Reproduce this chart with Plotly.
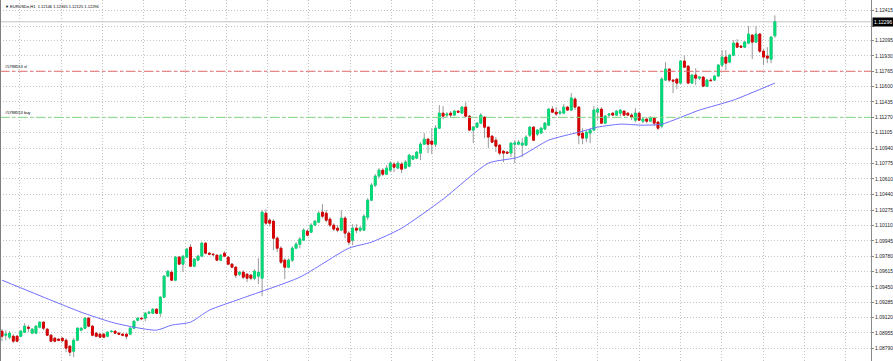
import plotly.graph_objects as go

symbol_title = "EURUSDe,H1  1.12146 1.12365 1.12125 1.12296"

opens = [
1.08974,1.08931,1.08910,1.08920,1.08920,1.08920,1.08963,1.09017,1.08953,1.08953,
1.09017,1.09071,1.08996,1.08931,1.08899,1.08888,1.08899,1.08877,1.08813,1.08759,
1.08877,1.08985,1.09006,1.09114,1.09028,1.08953,1.08942,1.08942,1.08920,1.08969,
1.08974,1.08953,1.08942,1.08942,1.08942,1.09006,1.09092,1.09114,1.09114,1.09167,
1.09167,1.09210,1.09167,1.09339,1.09565,1.09608,1.09522,1.09769,1.09694,1.09769,
1.09876,1.09672,1.09737,1.09780,1.09919,1.09812,1.09801,1.09790,1.09737,1.09812,
1.09769,1.09694,1.09661,1.09586,1.09608,1.09586,1.09576,1.09543,1.09565,1.09543,
1.10241,1.10166,1.10155,1.09973,1.09865,1.09737,1.09661,1.09737,1.09865,1.09908,
1.09951,1.10048,1.10037,1.10113,1.10145,1.10252,1.10241,1.10177,1.10113,1.10080,
1.10059,1.10188,1.10027,1.09951,1.10080,1.10059,1.10059,1.10198,1.10381,1.10542,
1.10639,1.10703,1.10660,1.10703,1.10768,1.10725,1.10768,1.10725,1.10746,1.10821,
1.10832,1.10886,1.10982,1.11036,1.11015,1.10982,1.11154,1.11315,1.11294,1.11315,
1.11294,1.11337,1.11315,1.11380,1.11283,1.11133,1.11165,1.11208,1.11272,1.11165,
1.11068,1.11025,1.10972,1.10907,1.10897,1.10886,1.10982,1.10982,1.10972,1.10972,
1.11079,1.11165,1.11090,1.11101,1.11144,1.11186,1.11358,1.11326,1.11315,1.11315,
1.11380,1.11348,1.11466,1.11380,1.11101,1.11047,1.11101,1.11133,1.11326,1.11358,
1.11208,1.11294,1.11315,1.11294,1.11315,1.11337,1.11315,1.11294,1.11240,1.11315,
1.11229,1.11251,1.11229,1.11262,1.11219,1.11176,1.11670,1.11788,1.11670,1.11681,
1.11638,1.11874,1.11820,1.11638,1.11724,1.11691,1.11702,1.11605,1.11670,1.11670,
1.11713,1.11831,1.11917,1.11863,1.11938,1.12067,1.12035,1.12024,1.12067,1.12153,
1.12078,1.12164,1.11981,1.11928,1.11895,1.12146]

highs = [
1.08996,1.08985,1.08974,1.08942,1.08931,1.08985,1.09060,1.09039,1.09006,1.09039,
1.09081,1.09081,1.09006,1.08942,1.08910,1.08899,1.08910,1.08899,1.08824,1.08899,
1.09017,1.09017,1.09124,1.09124,1.09039,1.08963,1.08953,1.08953,1.08974,1.08979,
1.08979,1.08963,1.08953,1.08953,1.09017,1.09092,1.09124,1.09124,1.09178,1.09189,
1.09221,1.09221,1.09350,1.09576,1.09629,1.09629,1.09780,1.09780,1.09790,1.09865,
1.09908,1.09758,1.09790,1.09930,1.09930,1.09823,1.09812,1.09801,1.09801,1.09833,
1.09780,1.09704,1.09672,1.09618,1.09629,1.09597,1.09586,1.09640,1.09758,1.10274,
1.10284,1.10188,1.10177,1.09994,1.09887,1.09758,1.09758,1.09887,1.09930,1.09984,
1.10080,1.10070,1.10134,1.10166,1.10263,1.10338,1.10274,1.10198,1.10134,1.10113,
1.10274,1.10209,1.10048,1.10123,1.10123,1.10102,1.10231,1.10403,1.10564,1.10660,
1.10725,1.10725,1.10757,1.10800,1.10789,1.10800,1.10789,1.10811,1.10875,1.10864,
1.10907,1.11004,1.11101,1.11047,1.11154,1.11186,1.11401,1.11391,1.11326,1.11337,
1.11348,1.11348,1.11391,1.11434,1.11294,1.11176,1.11219,1.11315,1.11283,1.11176,
1.11079,1.11058,1.10982,1.10918,1.10907,1.11004,1.11025,1.11025,1.11047,1.11079,
1.11176,1.11176,1.11144,1.11165,1.11219,1.11369,1.11391,1.11380,1.11348,1.11412,
1.11391,1.11530,1.11487,1.11391,1.11154,1.11133,1.11154,1.11391,1.11380,1.11380,
1.11294,1.11315,1.11326,1.11348,1.11358,1.11348,1.11326,1.11315,1.11369,1.11326,
1.11262,1.11272,1.11283,1.11272,1.11229,1.11702,1.11863,1.11799,1.11681,1.11691,
1.11885,1.11938,1.11831,1.11734,1.11799,1.11713,1.11713,1.11681,1.11691,1.11724,
1.11842,1.11992,1.11992,1.11949,1.12099,1.12110,1.12046,1.12089,1.12250,1.12164,
1.12250,1.12175,1.12003,1.12024,1.12142,1.12365]

lows = [
1.08867,1.08877,1.08888,1.08845,1.08856,1.08910,1.08953,1.08963,1.08942,1.08942,
1.09006,1.08985,1.08920,1.08856,1.08856,1.08867,1.08856,1.08749,1.08706,1.08695,
1.08867,1.08974,1.08996,1.09017,1.08920,1.08910,1.08899,1.08899,1.08910,1.08963,
1.08942,1.08931,1.08920,1.08888,1.08931,1.08996,1.09081,1.09092,1.09081,1.09157,
1.09157,1.09157,1.09124,1.09329,1.09554,1.09511,1.09511,1.09683,1.09608,1.09758,
1.09661,1.09661,1.09726,1.09769,1.09801,1.09790,1.09780,1.09726,1.09726,1.09769,
1.09683,1.09651,1.09543,1.09565,1.09533,1.09500,1.09522,1.09522,1.09479,1.09350,
1.10113,1.10102,1.09844,1.09823,1.09694,1.09533,1.09651,1.09715,1.09855,1.09865,
1.09941,1.09994,1.10027,1.10102,1.10134,1.10188,1.10145,1.10091,1.10048,1.10037,
1.10048,1.09973,1.09898,1.09898,1.10027,1.10037,1.10048,1.10166,1.10370,1.10521,
1.10617,1.10639,1.10650,1.10682,1.10682,1.10714,1.10671,1.10714,1.10735,1.10811,
1.10821,1.10811,1.10972,1.10886,1.10875,1.10950,1.11144,1.11251,1.11272,1.11272,
1.11283,1.11315,1.11305,1.11272,1.11122,1.10993,1.11154,1.11197,1.11047,1.10940,
1.10993,1.10897,1.10864,1.10789,1.10875,1.10843,1.10778,1.10972,1.10843,1.10961,
1.11058,1.11015,1.11068,1.11090,1.11133,1.11176,1.11315,1.11283,1.11294,1.11305,
1.11337,1.11337,1.11348,1.10982,1.10982,1.11004,1.10993,1.11122,1.11240,1.11197,
1.11197,1.11272,1.11283,1.11283,1.11283,1.11283,1.11283,1.11240,1.11219,1.11230,
1.11208,1.11208,1.11219,1.11176,1.11133,1.11154,1.11659,1.11648,1.11530,1.11573,
1.11627,1.11799,1.11627,1.11627,1.11616,1.11670,1.11595,1.11595,1.11659,1.11659,
1.11702,1.11809,1.11777,1.11852,1.11928,1.12014,1.12014,1.12014,1.12056,1.11895,
1.12067,1.11960,1.11831,1.11852,1.11852,1.12125]

closes = [
1.08920,1.08942,1.08953,1.08867,1.08867,1.08974,1.09028,1.09006,1.08996,1.09028,
1.09071,1.09006,1.08931,1.08867,1.08867,1.08877,1.08872,1.08792,1.08749,1.08877,
1.09006,1.09006,1.09114,1.09028,1.08931,1.08920,1.08910,1.08910,1.08963,1.08974,
1.08953,1.08942,1.08931,1.08920,1.09006,1.09081,1.09114,1.09108,1.09167,1.09178,
1.09210,1.09167,1.09339,1.09565,1.09618,1.09522,1.09769,1.09694,1.09780,1.09855,
1.09672,1.09747,1.09780,1.09919,1.09812,1.09801,1.09796,1.09737,1.09790,1.09780,
1.09694,1.09661,1.09576,1.09608,1.09554,1.09543,1.09543,1.09618,1.09608,1.10252,
1.10134,1.10134,1.09973,1.09865,1.09715,1.09661,1.09737,1.09865,1.09908,1.09962,
1.10059,1.10005,1.10113,1.10155,1.10241,1.10209,1.10166,1.10113,1.10070,1.10059,
1.10188,1.10027,1.09930,1.10080,1.10059,1.10080,1.10209,1.10381,1.10542,1.10639,
1.10703,1.10660,1.10725,1.10778,1.10735,1.10778,1.10714,1.10789,1.10864,1.10854,
1.10897,1.10982,1.11036,1.10982,1.10982,1.11154,1.11315,1.11283,1.11305,1.11294,
1.11337,1.11326,1.11380,1.11283,1.11133,1.11165,1.11208,1.11294,1.11165,1.11058,
1.11004,1.10961,1.10886,1.10886,1.10886,1.10993,1.10993,1.11004,1.10993,1.11058,
1.11165,1.11025,1.11133,1.11154,1.11208,1.11358,1.11326,1.11305,1.11326,1.11380,
1.11348,1.11477,1.11380,1.11079,1.11047,1.11111,1.11133,1.11348,1.11358,1.11208,
1.11283,1.11305,1.11294,1.11337,1.11348,1.11294,1.11294,1.11272,1.11315,1.11240,
1.11251,1.11229,1.11262,1.11208,1.11154,1.11681,1.11788,1.11670,1.11659,1.11638,
1.11874,1.11809,1.11638,1.11724,1.11691,1.11702,1.11605,1.11670,1.11664,1.11713,
1.11831,1.11917,1.11852,1.11938,1.12067,1.12024,1.12024,1.12078,1.12164,1.12078,
1.12164,1.11981,1.11917,1.11906,1.12132,1.12296]

ma_bars = [0, 13, 21, 29, 35, 41, 45, 50, 55, 63, 79, 92, 98, 106, 117, 129, 137,
           145, 153, 158, 164, 170, 175, 185, 194, 205]
ma_vals = [1.09522, 1.09307, 1.09178, 1.09071, 1.09017, 1.08985, 1.09039, 1.09071,
           1.09200, 1.09318, 1.09554, 1.09865, 1.09930, 1.10080, 1.10392, 1.10778,
           1.10843, 1.11025, 1.11111, 1.11165, 1.11197, 1.11186, 1.11197, 1.11348,
           1.11455, 1.11638]

price_ticks = [1.12415, 1.12250, 1.12095, 1.11930, 1.11765, 1.11600, 1.11435, 1.11270,
               1.11105, 1.10940, 1.10775, 1.10610, 1.10440, 1.10275, 1.10110, 1.09945,
               1.09780, 1.09615, 1.09450, 1.09285, 1.09120, 1.08955, 1.08790]

bid_price = 1.12296
sl_price = 1.11765
buy_price = 1.11270
order_sl_label = "#5788553 sl"
order_buy_label = "#5788553 buy"

UP = "#00DB78"
DOWN = "#D80000"
WICK = "#9a9a9a"
GRID = "#c4c4c4"
FONT = "Liberation Sans, Arial, sans-serif"

bars = list(range(len(opens)))
body_hi = [max(o, c) for o, c in zip(opens, closes)]
body_lo = [min(o, c) for o, c in zip(opens, closes)]

fig = go.Figure()
fig.add_trace(go.Candlestick(
    x=bars, open=opens, high=highs, low=lows, close=closes,
    increasing=dict(line=dict(color=WICK, width=1), fillcolor=UP),
    decreasing=dict(line=dict(color=WICK, width=1), fillcolor=DOWN),
    whiskerwidth=0, hoverinfo="skip", showlegend=False))
fig.add_trace(go.Candlestick(
    x=bars, open=opens, high=body_hi, low=body_lo, close=closes,
    increasing=dict(line=dict(color=UP, width=1), fillcolor=UP),
    decreasing=dict(line=dict(color=DOWN, width=1), fillcolor=DOWN),
    whiskerwidth=0, hoverinfo="skip", showlegend=False))
fig.add_trace(go.Scatter(x=ma_bars, y=ma_vals, mode="lines", line_shape="spline",
                         line=dict(color="#6f6fff", width=1, smoothing=0.6),
                         hoverinfo="skip", showlegend=False))

shapes = [
    dict(type="line", xref="paper", yref="y", x0=0, x1=1, y0=bid_price, y1=bid_price,
         line=dict(color="#c4c4c4", width=1), layer="below"),
    dict(type="line", xref="paper", yref="y", x0=0, x1=1, y0=sl_price, y1=sl_price,
         line=dict(color="#e86a6a", width=1, dash="dashdot")),
    dict(type="line", xref="paper", yref="y", x0=0, x1=1, y0=buy_price, y1=buy_price,
         line=dict(color="#7fd87f", width=1, dash="dashdot")),
    dict(type="line", xref="paper", yref="paper", x0=0, x1=0, y0=0, y1=1,
         line=dict(color="#808080", width=2)),
]

small = dict(family=FONT, size=4, color="#000000")
annotations = [
    dict(xref="paper", yref="paper", x=0.004, y=0.995, xanchor="left", yanchor="top",
         text="▼ " + symbol_title, showarrow=False, font=small),
    dict(xref="paper", yref="y", x=0.004, y=sl_price, xanchor="left", yanchor="bottom",
         text=order_sl_label, showarrow=False, font=small),
    dict(xref="paper", yref="y", x=0.004, y=buy_price, xanchor="left", yanchor="bottom",
         text=order_buy_label, showarrow=False, font=small),
    dict(xref="paper", yref="y", x=1.0, y=bid_price, xanchor="left", yanchor="middle",
         text=f"{bid_price:.5f}", showarrow=False, bgcolor="#000000",
         font=dict(family=FONT, size=5, color="#ffffff"),
         borderpad=1, xshift=1),
]

# the 1.12250 label sits under the bid box in the original
tick_text = ["" if abs(t - 1.12250) < 1e-9 else f"{t:.5f}" for t in price_ticks]

fig.update_layout(
    width=893, height=361, autosize=False,
    margin=dict(l=0, r=22, t=0, b=0),
    paper_bgcolor="white", plot_bgcolor="white",
    shapes=shapes, annotations=annotations, showlegend=False,
    xaxis=dict(range=[-0.53, 230.5], rangeslider=dict(visible=False),
               showticklabels=False, ticks="", showgrid=True, gridcolor=GRID,
               griddash="1px,2px", gridwidth=1, tick0=4.77, dtick=10.95,
               zeroline=False, showline=False),
    yaxis=dict(side="right", range=[1.08654, 1.12530], tickvals=price_ticks,
               ticktext=tick_text,
               tickfont=dict(family=FONT, size=5, color="#222222"),
               showgrid=True, gridcolor=GRID, griddash="1px,2px", gridwidth=1,
               showline=True, linecolor="#8a8a8a", linewidth=1,
               ticks="outside", ticklen=2, tickcolor="#8a8a8a", zeroline=False),
)

fig.write_html("out.html",
               config={"displayModeBar": False},
               post_script="document.body.style.margin='0';document.body.style.padding='0';")
